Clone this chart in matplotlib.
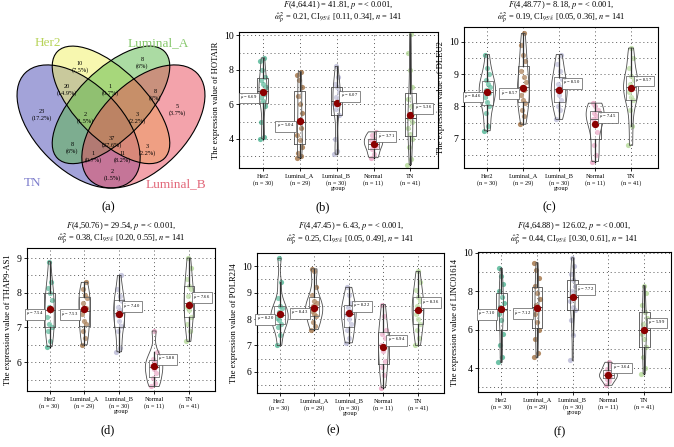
import numpy as np
import matplotlib
matplotlib.use('Agg')
import matplotlib.pyplot as plt
from matplotlib.patches import Ellipse
from matplotlib.ticker import MultipleLocator

plt.rcParams['font.family'] = ['Liberation Serif', 'DejaVu Serif']
plt.rcParams['mathtext.fontset'] = 'stix'

# groups
groups = ['Her2', 'Luminal_A', 'Luminal_B', 'Normal', 'TN']
group_n = [30, 29, 30, 11, 41]
group_colors = ['#3FAE8A', '#9A6634', '#B4B4D4', '#E99BBE', '#AED68F']

# venn (a)
venn_sets = ['TN', 'Her2', 'Luminal_A', 'Luminal_B']
venn_set_colors = ['#4848B4', '#F0F060', '#58B848', '#E84858']
venn_label_colors = ['#7C7CCC', '#B8D45A', '#86C86C', '#E2687A']
venn_counts = [23, 10, 8, 5, 20, 1, 8, 2, 3, 8, 37, 3, 1, 11, 2]
venn_total = 134

# violin panels
genes = ['HOTAIR', 'DLEU2', 'THAP9-AS1', 'POLR2J4', 'LINC01614']
f_df = ['4,64.41', '4,48.77', '4,50.76', '4,47.45', '4,64.88']
f_val = ['41.81', '8.18', '29.54', '6.43', '126.02']
omega = ['0.21', '0.19', '0.38', '0.25', '0.44']
ci_low = ['0.11', '0.05', '0.20', '0.05', '0.30']
ci_high = ['0.34', '0.36', '0.55', '0.49', '0.61']

hotair = [
    [4.0, 4.1, 5.0, 5.9, 6.2, 6.4, 6.6, 6.8, 7.0, 7.2, 7.4, 7.6, 8.0, 8.5, 8.7],
    [2.9, 3.0, 3.2, 3.5, 3.9, 4.2, 4.6, 5.0, 5.5, 6.0, 6.5, 7.0, 7.4, 7.7, 7.9],
    [3.1, 3.3, 4.0, 5.4, 5.7, 6.0, 6.2, 6.4, 6.7, 7.0, 7.2, 7.6, 8.2],
    [2.9, 3.1, 3.4, 3.6, 3.7, 3.9, 4.0, 4.2, 4.4],
    [2.5, 2.8, 3.5, 4.0, 4.3, 4.6, 5.0, 5.2, 5.5, 5.9, 6.3, 7.0, 8.0, 9.0, 10.1],
]
hotair_mean = [6.69, 5.04, 6.07, 3.71, 5.36]

dleu2 = [
    [7.25, 7.4, 7.8, 8.0, 8.15, 8.3, 8.4, 8.5, 8.6, 8.7, 8.8, 9.0, 9.2, 9.6],
    [7.45, 7.7, 7.9, 8.1, 8.2, 8.35, 8.5, 8.6, 8.75, 8.9, 9.1, 9.4, 9.6, 9.9, 10.25],
    [7.6, 7.9, 8.0, 8.2, 8.35, 8.5, 8.6, 8.7, 8.85, 9.1, 9.3, 9.6],
    [6.3, 6.5, 6.8, 7.2, 7.5, 7.6, 7.7, 7.8, 7.9, 8.0, 8.1],
    [6.8, 7.4, 7.9, 8.2, 8.3, 8.45, 8.6, 8.7, 8.8, 8.95, 9.2, 9.5, 9.8],
]
dleu2_mean = [8.46, 8.57, 8.50, 7.45, 8.57]

thap9 = [
    [6.45, 6.6, 6.9, 7.0, 7.1, 7.3, 7.5, 7.6, 7.8, 8.0, 8.15, 8.3, 8.9],
    [6.5, 6.7, 6.9, 7.1, 7.2, 7.4, 7.55, 7.7, 7.85, 7.95, 8.1, 8.3],
    [6.3, 6.4, 6.9, 7.05, 7.2, 7.35, 7.5, 7.6, 7.75, 7.9, 8.1, 8.5],
    [5.3, 5.4, 5.55, 5.7, 5.8, 5.9, 6.0, 6.1, 6.3, 6.9],
    [6.6, 6.9, 7.1, 7.3, 7.5, 7.6, 7.7, 7.9, 8.1, 8.2, 8.4, 8.7, 9.0],
]
thap9_mean = [7.54, 7.53, 7.40, 5.88, 7.66]

polr2j4 = [
    [7.0, 7.4, 7.7, 7.8, 7.95, 8.05, 8.15, 8.25, 8.4, 8.5, 8.8, 9.4, 10.3],
    [7.6, 7.75, 7.9, 8.1, 8.2, 8.3, 8.4, 8.5, 8.6, 8.7, 8.9, 9.2, 9.8, 9.9],
    [7.1, 7.3, 7.6, 7.8, 8.0, 8.2, 8.3, 8.45, 8.6, 8.9, 9.2],
    [5.4, 5.9, 6.2, 6.4, 6.8, 7.0, 7.3, 7.45, 7.6, 8.1, 8.55],
    [7.0, 7.3, 7.6, 7.8, 8.0, 8.2, 8.35, 8.5, 8.7, 8.85, 9.1, 9.4, 9.8],
]
polr2j4_mean = [8.20, 8.43, 8.22, 6.94, 8.36]

linc01614 = [
    [4.3, 4.6, 5.2, 5.8, 6.5, 6.8, 7.0, 7.2, 7.4, 7.7, 8.0, 8.4, 8.8, 9.2],
    [4.55, 4.8, 5.5, 6.0, 6.4, 6.8, 7.1, 7.3, 7.6, 7.9, 8.3, 8.7, 9.1, 9.5],
    [4.4, 5.7, 6.5, 7.0, 7.2, 7.5, 7.7, 8.0, 8.3, 8.6, 8.9, 9.3, 9.75],
    [3.1, 3.3, 3.45, 3.55, 3.6, 3.7, 3.8, 3.95, 4.1, 4.3],
    [3.7, 4.0, 4.6, 5.1, 5.5, 5.8, 6.0, 6.3, 6.6, 6.9, 7.3, 7.9, 8.3],
]
linc01614_mean = [7.10, 7.12, 7.72, 3.64, 5.99]

panel_data = [hotair, dleu2, thap9, polr2j4, linc01614]
panel_means = [hotair_mean, dleu2_mean, thap9_mean, polr2j4_mean, linc01614_mean]
panel_ylim = [(2.3, 10.2), (6.1, 10.45), (5.17, 9.29), (5.2, 10.5), (2.75, 10.05)]
panel_major = [2, 1, 1, 1, 2]

W, H = 674, 447
fig = plt.figure(figsize=(W / 100, H / 100), dpi=100)


def px_axes(l, t, r, b):
    return fig.add_axes([l / W, (H - b) / H, (r - l) / W, (b - t) / H])


# ---- (a) venn
ax = px_axes(3, 12, 219, 228)
ax.set_xlim(0, 1)
ax.set_ylim(0, 1)
ax.axis('off')
ell = [((0.35, 0.47), 0.35, 0.20, -45),
       ((0.50, 0.57), 0.35, 0.16, -45),
       ((0.50, 0.57), 0.35, 0.16, 45),
       ((0.65, 0.47), 0.35, 0.20, 45)]
for (c, a, b, ang), col in zip(ell, venn_set_colors):
    ax.add_patch(Ellipse(c, 2 * a, 2 * b, angle=ang, fc=col, alpha=0.5, ec='none'))
for (c, a, b, ang) in ell:
    ax.add_patch(Ellipse(c, 2 * a, 2 * b, angle=ang, fc='none', ec='black', lw=0.8))
region_pos = [(.181, .523), (.356, .745), (.644, .764), (.806, .546), (.296, .639),
              (.495, .639), (.704, .616), (.380, .509), (.620, .509), (.319, .370),
              (.505, .398), (.667, .361), (.417, .329), (.551, .329), (.505, .245)]
for (x, y), cnt in zip(region_pos, venn_counts):
    pct = round(cnt / venn_total * 100, 1)
    ax.text(x, y, f"{cnt}\n({pct:g}%)", ha='center', va='center', fontsize=4.5,
            linespacing=1.3)
name_pos = [(.139, .208), (.208, .856), (.718, .856), (.801, .204)]
for (x, y), name, col in zip(name_pos, venn_sets, venn_label_colors):
    ax.text(x, y, name, color=col, ha='center', va='center', fontsize=9.5)
fig.text(108 / W, 1 - 207 / H, '(a)', ha='center', va='center', fontsize=9)

# ---- violin panels
boxes = [(239, 32, 438, 168), (464, 27, 658, 168), (27, 248, 215, 391),
         (257, 253, 444, 393), (478, 252, 671, 392)]
title_y = [(5, 18), (5, 18), (226, 239), (226, 240), (226, 240)]
letters = ['(b)', '(c)', '(d)', '(e)', '(f)']
letter_pos = [(323, 207), (549, 207), (108, 430), (333, 430), (560, 432)]


def nrd0(v):
    v = np.asarray(v)
    sd = v.std(ddof=1)
    iqr = np.subtract(*np.percentile(v, [75, 25]))
    lo = min(sd, iqr / 1.34) if iqr > 0 else sd
    return 0.9 * lo * len(v) ** -0.2


def kde(v, grid):
    v = np.asarray(v)
    bw = nrd0(v)
    z = (grid[:, None] - v[None, :]) / bw
    return np.exp(-0.5 * z ** 2).sum(axis=1) / (len(v) * bw * np.sqrt(2 * np.pi))


for k in range(5):
    ax = px_axes(*boxes[k])
    data = panel_data[k]
    means = panel_means[k]
    pos = np.arange(1, 6)

    # jittered points
    for i, vals in enumerate(data):
        n = len(vals)
        jit = ((np.arange(n) * 0.618) % 1 - 0.5) * 0.16
        ax.scatter(pos[i] + jit, vals, s=14, color=group_colors[i], alpha=0.75,
                   lw=0, zorder=2)

    # boxplot
    ax.boxplot(data, positions=pos, widths=0.3, showfliers=False, whis=1.5,
               boxprops=dict(color='0.3', lw=0.6),
               whiskerprops=dict(color='black', lw=0.9),
               capprops=dict(visible=False),
               medianprops=dict(color='0.25', lw=0.7), zorder=3)

    # violins (area-scaled)
    grids = [np.linspace(min(v), max(v), 200) for v in data]
    dens = [kde(v, g) for v, g in zip(data, grids)]
    dmax = max(d.max() for d in dens)
    for i, (g, d) in enumerate(zip(grids, dens)):
        w = d / dmax * 0.25
        ax.fill(np.r_[pos[i] - w, (pos[i] + w)[::-1]], np.r_[g, g[::-1]],
                fc=(1, 1, 1, 0.2), ec='0.3', lw=0.6, zorder=4)

    # means
    ax.scatter(pos, means, s=28, color='#8B0000', zorder=6, lw=0)
    for i, m in enumerate(means):
        if i < 2:
            off, ha = (-4, -4), 'right'
        else:
            off, ha = (3, 5), 'left'
        ax.annotate(rf"$\hat{{\mu}}$ = {m:.2f}", (pos[i], m), xytext=off,
                    textcoords='offset points', ha=ha, va='center', fontsize=3.3,
                    bbox=dict(boxstyle='square,pad=0.3', fc='white', ec='0.35', lw=0.5),
                    zorder=7)

    ax.set_xlim(0.35, 5.75)
    ax.set_ylim(*panel_ylim[k])
    ax.set_xticks(pos)
    ax.set_xticklabels([f"{g}\n(n = {n})" for g, n in zip(groups, group_n)],
                       fontsize=4.5, linespacing=1.3)
    ax.yaxis.set_major_locator(MultipleLocator(panel_major[k]))
    ax.yaxis.set_minor_locator(MultipleLocator(panel_major[k] / 2))
    ax.tick_params(axis='y', which='major', labelsize=7, length=2, width=0.6, pad=2)
    ax.tick_params(axis='y', which='minor', length=0)
    ax.tick_params(axis='x', length=2, width=0.6, pad=2)
    ax.grid(which='both', axis='both', ls=(0, (1, 3)), color='0.35', lw=0.7)
    ax.set_axisbelow(True)
    for sp in ax.spines.values():
        sp.set_color('black')
        sp.set_linewidth(0.8)
    ax.set_xlabel('group', fontsize=4.5, labelpad=0)
    ax.set_ylabel(f"The expression value of {genes[k]}", fontsize=6.2, labelpad=3)

    # two-line statistics title
    cx = (boxes[k][0] + boxes[k][2]) / 2 / W
    y1, y2 = title_y[k]
    fig.text(cx, 1 - y1 / H, f"$F$({f_df[k]}) = {f_val[k]}, $p$ = < 0.001,",
             ha='center', va='center', fontsize=6)
    fig.text(cx, 1 - y2 / H,
             rf"$\hat{{\omega}}_p^2$ = {omega[k]}, CI$_{{95\%}}$ "
             f"[{ci_low[k]}, {ci_high[k]}], $n$ = 141",
             ha='center', va='center', fontsize=6)
    lx, ly = letter_pos[k]
    fig.text(lx / W, 1 - ly / H, letters[k], ha='center', va='center', fontsize=9)

fig.savefig('out.png', dpi=100)
